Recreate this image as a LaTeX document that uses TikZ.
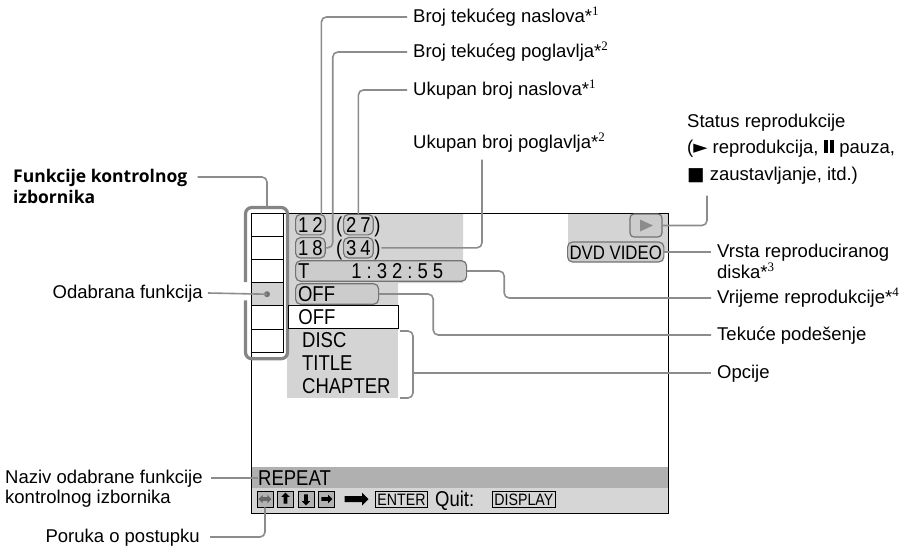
\documentclass[tikz,border=0pt]{standalone}
\usepackage{fontspec}
\setmainfont{Liberation Sans}
\newfontfamily\symfont{DejaVu Sans}
\newfontfamily\supfont{Liberation Serif}
\newfontfamily\headfont{Open Sans}
\newfontfamily\scrfont{Liberation Sans}[FakeStretch=0.86]
\usetikzlibrary{shapes.arrows}

\newcommand\fnote[1]{*\textsuperscript{\supfont #1}}
\newcommand\pausebars{\rule{4pt}{13pt}\hspace{2.5pt}\rule{4pt}{13pt}}

\begin{document}
\begin{tikzpicture}[x=1pt, y=-1pt,
  lbl/.style={font=\fontsize{18.5}{22}\selectfont, inner sep=0pt,
              text height=13.5pt, text depth=3.5pt, anchor=west},
  lead/.style={draw=black!45, line width=1.6pt, rounded corners=5pt},
  brk/.style={draw=black!48, line width=3.2pt, rounded corners=6pt},
  scrtxt/.style={font=\scrfont\fontsize{21.5}{24}\selectfont, inner sep=0pt,
                 text height=15.5pt, text depth=0pt, anchor=west},
  pill/.style={scrtxt, draw=black!55, fill=black!20, line width=1.2pt,
               rounded corners=5pt, inner xsep=2.5pt, inner ysep=2.5pt},
  cell/.style={draw, line width=0.9pt, minimum width=32pt,
               minimum height=23.2pt, inner sep=0pt},
  keybox/.style={draw, line width=0.8pt, font=\scrfont\fontsize{16.5}{18}\selectfont,
                 inner xsep=2pt, inner ysep=2pt, text height=12pt, text depth=0pt},
  icon/.style={draw, line width=0.8pt, fill=black!30, minimum width=16pt,
               minimum height=16pt, inner sep=0pt},
  arrw/.style={single arrow, fill=black, inner xsep=0pt, inner ysep=1.6pt,
               minimum height=11pt, single arrow head extend=2.4pt},
]

  \useasboundingbox (0,0) rectangle (922,550);

  \def\mx{267}
  \def\tx{295}

  % Screen background

  \fill[black!17] (287,213) -- (463,213) -- (463,283) -- (398,283)
                  -- (398,305) -- (287,305) -- cycle;
  \fill[black!17] (287,328) rectangle (398,398);
  \fill[black!17] (568,213) rectangle (668,252);
  \fill[black!31] (251,467) rectangle (668,488);
  \fill[black!16] (251,488) rectangle (668,513);

  \node[draw, line width=1.3pt, minimum width=417pt, minimum height=300pt,
        anchor=north west, inner sep=0pt] (scr) at (251,213) {};

  % Menu column

  \foreach \i/\f in {0/white,1/white,2/white,3/black!18,4/white,5/white}
    \node[cell, fill=\f] (m\i) at (\mx, {224.6+23.2*\i}) {};
  \fill[black!55] (m3.center) circle (3pt);

  \draw[brk] ([xshift=-5pt]m3.north west) -- ([xshift=-5pt,yshift=5pt]m0.north west)
    -- ([xshift=4pt,yshift=5pt]m0.north east) -- ([xshift=4pt,yshift=-6pt]m5.south east)
    -- ([xshift=-5pt,yshift=-6pt]m5.south west) -- ([xshift=-5pt,yshift=5pt]m4.north west);

  % Screen rows

  \node[pill] (tnum) at (\tx,224.6) {1\hspace{4pt}2};
  \node[pill] (ttot) at (343,224.6) {2\hspace{4pt}7};
  \node[scrtxt, anchor=east, inner xsep=0.5pt] (tlp) at (ttot.west) {(};
  \node[scrtxt, inner xsep=0.5pt] (trp) at (ttot.east) {)};

  \node[pill] (cnum) at (\tx,247.8) {1\hspace{4pt}8};
  \node[pill] (ctot) at (343,247.8) {3\hspace{4pt}4};
  \node[scrtxt, anchor=east, inner xsep=0.5pt] (clp) at (ctot.west) {(};
  \node[scrtxt, inner xsep=0.5pt] (crp) at (ctot.east) {)};

  \node[pill] (time) at (\tx,271) {\makebox[166pt][l]{T\hspace{42pt}1\hspace{5pt}:\hspace{5pt}3\hspace{5pt}2\hspace{5pt}:\hspace{5pt}5\hspace{5pt}5}};
  \node[pill] (offcur) at (\tx,294) {\makebox[78pt][l]{OFF}};

  \node[scrtxt, draw, line width=0.9pt, fill=white, inner xsep=10pt,
        minimum height=23pt] (offsel) at (288,316.7) {\makebox[90pt][l]{OFF}};
  \node[scrtxt] (disc)  at (302,340) {DISC};
  \node[scrtxt] (title) at (302,363) {TITLE};
  \node[scrtxt] (chap)  at (302,386) {CHAPTER};

  \coordinate (optT) at (413,331);
  \coordinate (optB) at (413,398);

  \node[draw=black!55, fill=black!20, line width=1.2pt, rounded corners=4pt,
        minimum width=32pt, minimum height=23pt, inner sep=0pt] (play) at (646,225.5) {};
  \fill[black!45] ([xshift=-6pt,yshift=6pt]play.center) -- ++(13,6) -- ++(-13,6) -- cycle;

  \node[scrtxt, draw=black!55, fill=black!20, line width=1.2pt, rounded corners=5pt,
        inner xsep=2pt, inner ysep=3pt, font=\scrfont\fontsize{19.5}{22}\selectfont,
        text height=14pt] (dvd) at (567,252) {DVD VIDEO};

  % Bottom bars

  \node[scrtxt] (rep) at (258,478) {REPEAT};

  \node[icon] (k1) at (265,499) {};
  \node[icon] (k2) at (285.5,499) {};
  \node[icon] (k3) at (306,499) {};
  \node[icon] (k4) at (326,499) {};
  \node[double arrow, fill=black!60, inner xsep=0pt, inner ysep=1.6pt,
        minimum height=13pt, double arrow head extend=2.4pt] (k1a) at (k1) {};
  \node[arrw, rotate=90]  (k2a) at (k2) {};
  \node[arrw, rotate=-90] (k3a) at (k3) {};
  \node[arrw] (k4a) at (k4) {};

  \node[single arrow, fill=black, inner xsep=0pt, inner ysep=2.8pt,
        minimum height=24pt, single arrow head extend=3.5pt] (go) at (355,499) {};
  \node[keybox] (enter) at (401.5,499) {ENTER};
  \node[scrtxt] (quit) at (435,499) {Quit:};
  \node[keybox, anchor=west] (disp) at (492,499) {DISPLAY};

  % Labels, right

  \node[lbl] (lTn) at (413,17)  {Broj tekućeg naslova\fnote{1}};
  \node[lbl] (lCh) at (413,52)  {Broj tekućeg poglavlja\fnote{2}};
  \node[lbl] (lTt) at (413,90)  {Ukupan broj naslova\fnote{1}};
  \node[lbl] (lCt) at (413,143) {Ukupan broj poglavlja\fnote{2}};

  \node[lbl] (st1) at (687,122) {Status reprodukcije};
  \node[lbl] (st2) at (687,148) {({\symfont ►} reprodukcija, \pausebars\ pauza,};
  \node[lbl] (st3) at (687,175) {{\symfont ■} zaustavljanje, itd.)};

  \node[lbl] (vr1) at (717,252) {Vrsta reproduciranog};
  \node[lbl] (vr2) at (717,273) {diska\fnote{3}};
  \node[lbl] (vt)  at (717,298) {Vrijeme reprodukcije\fnote{4}};
  \node[lbl] (tek) at (717,335) {Tekuće podešenje};
  \node[lbl] (opc) at (717,373) {Opcije};

  % Labels, left

  \node[lbl, font=\headfont\bfseries\fontsize{17.5}{21}\selectfont] (fk1) at (13,177) {Funkcije kontrolnog};
  \node[lbl, font=\headfont\bfseries\fontsize{17.5}{21}\selectfont] (fk2) at (13,198) {izbornika};
  \node[lbl, anchor=east] (odb) at (203,293) {Odabrana funkcija};
  \node[lbl] (nz1) at (5,478) {Naziv odabrane funkcije};
  \node[lbl] (nz2) at (5,498) {kontrolnog izbornika};
  \node[lbl, anchor=east] (por) at (200,537) {Poruka o postupku};

  % Leaders

  \draw[lead] ([xshift=-6pt]lTn.west) -| ([xshift=11pt]tnum.north);
  \draw[lead] ([xshift=-6pt]lCh.west) -| ([xshift=7pt]cnum.north east) |- (cnum.east);
  \draw[lead] ([xshift=-6pt]lTt.west) -| (ttot.north);
  \draw[lead] ([xshift=69pt,yshift=-8pt]lCt.south west) |- (crp.east);

  \draw[lead] (play.east) -| ([xshift=20pt,yshift=-12pt]st3.south west);
  \draw[lead] (dvd.east) -- ([xshift=-6pt]vr1.west);
  \draw[lead] (time.east) -- ++(37,0) |- ([xshift=-6pt]vt.west);
  \draw[lead] (offcur.east) -- ++(54,0) |- ([xshift=-6pt]tek.west);
  \draw[lead] ([xshift=-13pt]optT) -- (optT) -- (optB) -- ([xshift=-13pt]optB);
  \draw[lead] (optT |- opc.west) -- ([xshift=-6pt]opc.west);

  \draw[lead] ([xshift=10pt]fk1.east) -| ([yshift=6pt]m0.north);
  \draw[lead] ([xshift=5pt]odb.east) -- (m3.center);
  \draw[lead] ([xshift=8pt]nz1.east) -- (rep.west);
  \draw[lead] ([xshift=10pt]por.east) -| (k1.south);

\end{tikzpicture}
\end{document}
